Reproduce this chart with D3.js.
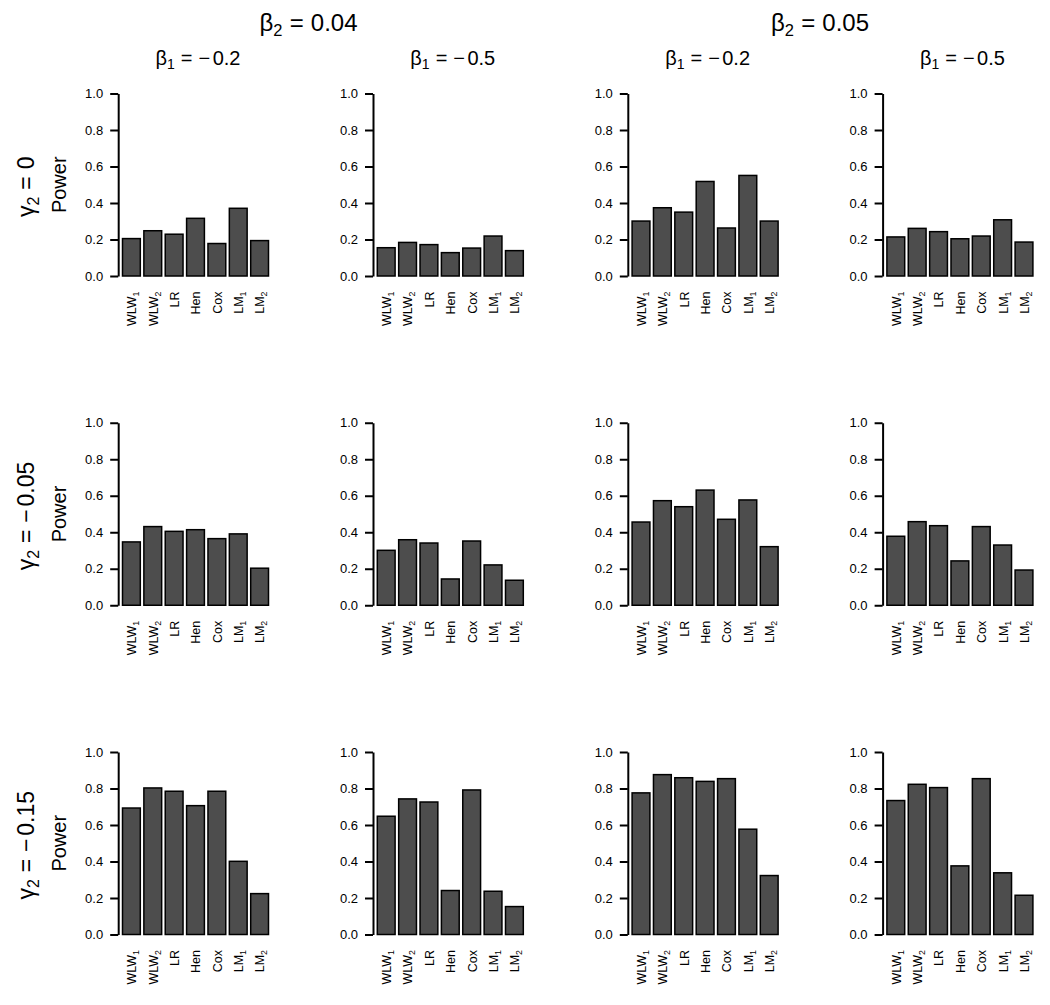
<!DOCTYPE html>
<html>
<head>
<meta charset="utf-8">
<script src="https://cdn.jsdelivr.net/npm/d3@7"></script>
<style>
  html, body { margin: 0; padding: 0; background: #fff; }
  svg { display: block; font-family: "Liberation Sans", Arial, Helvetica, sans-serif; }
</style>
</head>
<body>
<svg id="chart" width="1050" height="1005"></svg>
<script>
// ---------------- data ----------------
const methodBase = ["WLW", "WLW", "LR", "Hen", "Cox", "LM", "LM"];
const methodSub  = ["1", "2", "", "", "", "1", "2"];
const beta2Labels = ["0.04", "0.05"];
const beta1Labels = ["0.2", "0.5"];      // shown as  β1 = −value
const gamma2Labels = ["0", "\u22120.05", "\u22120.15"];
const yTicks = [0, 0.2, 0.4, 0.6, 0.8, 1.0];

// rows: gamma2 = 0, -0.05, -0.15 ; columns: (b2=0.04,b1=-0.2), (0.04,-0.5), (0.05,-0.2), (0.05,-0.5)
const powerGamma0 = [
  [0.205, 0.248, 0.229, 0.316, 0.178, 0.371, 0.194],
  [0.155, 0.184, 0.172, 0.128, 0.153, 0.219, 0.139],
  [0.301, 0.374, 0.350, 0.518, 0.263, 0.551, 0.301],
  [0.214, 0.261, 0.243, 0.204, 0.219, 0.308, 0.186]
];
const powerGamma005 = [
  [0.347, 0.431, 0.405, 0.414, 0.365, 0.391, 0.203],
  [0.301, 0.359, 0.341, 0.144, 0.352, 0.221, 0.137],
  [0.456, 0.573, 0.540, 0.631, 0.471, 0.577, 0.321],
  [0.378, 0.458, 0.436, 0.243, 0.431, 0.330, 0.193]
];
const powerGamma015 = [
  [0.693, 0.803, 0.785, 0.706, 0.785, 0.401, 0.224],
  [0.648, 0.743, 0.726, 0.241, 0.792, 0.237, 0.153],
  [0.776, 0.876, 0.859, 0.839, 0.854, 0.577, 0.323],
  [0.734, 0.823, 0.805, 0.376, 0.854, 0.338, 0.215]
];
const rows = [powerGamma0, powerGamma005, powerGamma015];

// ---------------- layout ----------------
const svg = d3.select("#chart");
const colLeft = d3.scaleLinear().domain([0, 3]).range([122.5, 886.9]);   // left edge of first bar
const rowBase = d3.scaleLinear().domain([0, 2]).range([276, 934.5]);     // y of 0.0
const barsWidth = 146;
const plotH = 182.5;
const axisGap = 4.3;

const cats = d3.range(methodBase.length);

function mathLabel(sel, greek, sub, rhsParts, size, subSize, subDy) {
  sel.append("tspan").text(greek);
  sel.append("tspan").text(sub).attr("font-size", subSize + "px").attr("dy", subDy);
  sel.append("tspan").text("=").attr("dy", -subDy).attr("dx", size * 0.3);
  rhsParts.forEach((p, i) => {
    sel.append("tspan").text(p).attr("dx", i === 0 ? size * 0.3 : size * 0.12);
  });
}

rows.forEach((row, r) => {
  row.forEach((vals, c) => {
    const x0 = colLeft(c);
    const base = rowBase(r);
    const x = d3.scaleBand().domain(cats).range([x0, x0 + barsWidth]).paddingInner(0.2 / 1.2).paddingOuter(0);
    const y = d3.scaleLinear().domain([0, 1]).range([base, base - plotH]);
    const g = svg.append("g");

    // bars
    g.selectAll("rect").data(vals).join("rect")
      .attr("x", (d, i) => x(i))
      .attr("y", d => y(d))
      .attr("width", x.bandwidth())
      .attr("height", d => y(0) - y(d))
      .attr("fill", "#4d4d4d")
      .attr("stroke", "#000")
      .attr("stroke-width", 1.5);

    // y axis
    const ax = g.append("g")
      .attr("transform", `translate(${x0 - axisGap},0)`)
      .call(d3.axisLeft(y).tickValues(yTicks).tickFormat(d3.format(".1f")).tickSize(8).tickSizeOuter(0).tickPadding(7));
    ax.select(".domain").attr("stroke", "#000").attr("stroke-width", 2);
    ax.selectAll(".tick line").attr("stroke", "#000").attr("stroke-width", 2);
    ax.selectAll(".tick text").attr("font-size", "13px").attr("fill", "#000")
      .attr("font-family", "'Liberation Sans', Arial, sans-serif");

    // x labels (rotated)
    const lab = g.selectAll("text.xl").data(cats).join("text")
      .attr("class", "xl")
      .attr("transform", i => `translate(${x(i) + x.bandwidth() / 2 + 0.5},${base + 15.5}) rotate(-90)`)
      .attr("text-anchor", "end")
      .attr("dy", "0.35em")
      .attr("font-size", "12.5px")
      .attr("fill", "#000");
    lab.append("tspan").text(i => methodBase[i]);
    lab.append("tspan").text(i => methodSub[i])
      .attr("font-size", "8.8px").attr("dy", "3");

    // beta1 titles on top row
    if (r === 0) {
      const t = svg.append("text")
        .attr("x", x0 + barsWidth / 2 + 2.5)
        .attr("y", 65)
        .attr("text-anchor", "middle")
        .attr("font-size", "20px")
        .attr("fill", "#000");
      mathLabel(t, "\u03b2", "1", ["\u2212", beta1Labels[c % 2]], 20, 14, 4);
    }

    // row labels on first column
    if (c === 0) {
      const cy = base - plotH / 2;
      const gt = svg.append("text")
        .attr("transform", `translate(33.5,${cy + 2}) rotate(-90)`)
        .attr("text-anchor", "middle")
        .attr("font-size", "23px")
        .attr("fill", "#000");
      const parts = gamma2Labels[r].startsWith("\u2212") ? ["\u2212", gamma2Labels[r].slice(1)] : [gamma2Labels[r]];
      mathLabel(gt, "\u03b3", "2", parts, 23, 16, 5);

      svg.append("text")
        .attr("transform", `translate(65.5,${cy}) rotate(-90)`)
        .attr("text-anchor", "middle")
        .attr("font-size", "20px")
        .attr("fill", "#000")
        .text("Power");
    }
  });
});

// beta2 super titles
const b2Centers = [308.5, 820];
beta2Labels.forEach((lbl, k) => {
  const t = svg.append("text")
    .attr("x", b2Centers[k])
    .attr("y", 30.7)
    .attr("text-anchor", "middle")
    .attr("font-size", "24px")
    .attr("fill", "#000");
  mathLabel(t, "\u03b2", "2", [lbl], 24, 16.5, 5);
});
</script>
</body>
</html>
